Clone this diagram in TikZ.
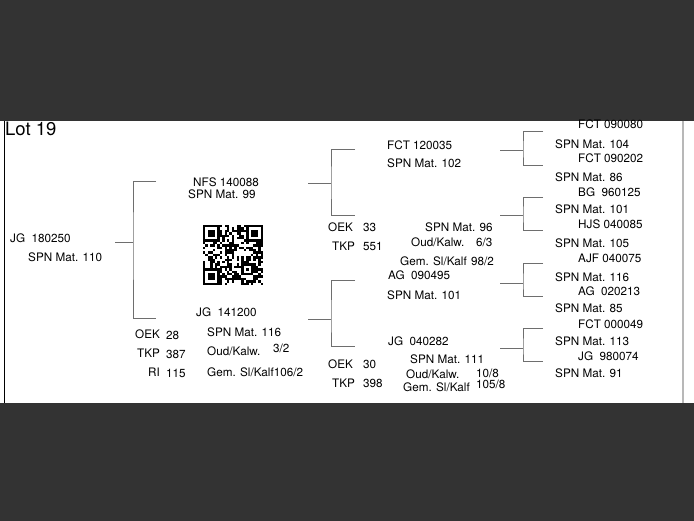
\documentclass[tikz,border=0pt]{standalone}
\usepackage{fontspec}
\setmainfont{TeX Gyre Heros}
\usetikzlibrary{calc,positioning}

\definecolor{bgdark}{HTML}{333333}
\definecolor{forkgray}{HTML}{6E6E6E}

\tikzset{
    lbl/.style={anchor=base west, inner sep=0pt, font=\fontsize{11.7}{14}\selectfont},
    pedline/.style={draw=forkgray, line width=0.9pt},
}

\begin{document}
\begin{tikzpicture}[x=1pt,y=-1pt]
        \useasboundingbox (0,0) rectangle (694,521);

        % Sheet
        \fill[bgdark] (0,0) rectangle (694,121);
        \fill[white] (0,121) rectangle (694,403);
        \fill[bgdark] (0,403) rectangle (694,521);
        \draw[black, line width=0.8pt] (4,121) -- (4,403);
        \draw[black!28, line width=2.6pt] (683,121) -- (683,403);

        \node[lbl, font=\fontsize{18.5}{20}\selectfont] (lot) at (5,136) {Lot 19};

        % Animal
        \node[lbl] (anim) at (10,243) {JG~~180250};
        \node[lbl] (animspn) at (28,262) {SPN Mat. 110};

        % Sire
        \node[lbl] (sire) at (193,187) {NFS 140088};
        \node[lbl] (sirespn) at (188,199) {SPN Mat. 99};

        % Dam
        \node[lbl] (dam) at (196,317) {JG~~141200};
        \node[lbl] (damspn) at (207,337) {SPN Mat. 116};
        \node[lbl] (damoud) at (207,356) {Oud/Kalw.};
        \node[lbl] (damoudv) at (273,353) {3/2};
        \node[lbl] (damgem) at (207,377) {Gem. Sl/Kalf106/2};
        \node[lbl] (damoek) at (135,339) {OEK};
        \node[lbl] (damoekv) at (166,340) {28};
        \node[lbl] (damtkp) at (137,358) {TKP};
        \node[lbl] (damtkpv) at (166,359) {387};
        \node[lbl] (damri) at (148,377) {RI};
        \node[lbl] (damriv) at (166,378) {115};

        % Grandparents, sire side
        \node[lbl] (ss) at (387,150) {FCT 120035};
        \node[lbl] (ssspn) at (387,168) {SPN Mat. 102};
        \node[lbl] (sdoek) at (328,232) {OEK};
        \node[lbl] (sdoekv) at (363,232) {33};
        \node[lbl] (sdtkp) at (332,251) {TKP};
        \node[lbl] (sdtkpv) at (363,251) {551};
        \node[lbl] (sdspn) at (425,232) {SPN Mat. 96};
        \node[lbl] (sdoud) at (411,247) {Oud/Kalw.};
        \node[lbl] (sdoudv) at (476,247) {6/3};
        \node[lbl] (sdgem) at (400,266) {Gem. Sl/Kalf};
        \node[lbl] (sdgemv) at (471,266) {98/2};

        % Grandparents, dam side
        \node[lbl] (ds) at (388,280) {AG~~090495};
        \node[lbl] (dsspn) at (387,300) {SPN Mat. 101};
        \node[lbl] (dd) at (388,346) {JG~~040282};
        \node[lbl] (ddspn) at (410,364) {SPN Mat. 111};
        \node[lbl] (ddoud) at (406,379) {Oud/Kalw.};
        \node[lbl] (ddoudv) at (476,378) {10/8};
        \node[lbl] (ddgem) at (403,392) {Gem. Sl/Kalf};
        \node[lbl] (ddgemv) at (476,389) {105/8};
        \node[lbl] (ddoek) at (328,369) {OEK};
        \node[lbl] (ddoekv) at (363,369) {30};
        \node[lbl] (ddtkp) at (332,388) {TKP};
        \node[lbl] (ddtkpv) at (363,388) {398};

        % Great-grandparents
        \node[lbl] (g1) at (578,129) {FCT 090080};
        \node[lbl] (g1spn) at (555,149) {SPN Mat. 104};
        \node[lbl] (g2) at (578,163) {FCT 090202};
        \node[lbl] (g2spn) at (555,182) {SPN Mat. 86};
        \node[lbl] (g3) at (578,197) {BG~~960125};
        \node[lbl] (g3spn) at (555,214) {SPN Mat. 101};
        \node[lbl] (g4) at (578,229) {HJS 040085};
        \node[lbl] (g4spn) at (555,248) {SPN Mat. 105};
        \node[lbl] (g5) at (578,263) {AJF 040075};
        \node[lbl] (g5spn) at (555,282) {SPN Mat. 116};
        \node[lbl] (g6) at (578,296) {AG~~020213};
        \node[lbl] (g6spn) at (555,313) {SPN Mat. 85};
        \node[lbl] (g7) at (578,329) {FCT 000049};
        \node[lbl] (g7spn) at (555,346) {SPN Mat. 113};
        \node[lbl] (g8) at (578,361) {JG~~980074};
        \node[lbl] (g8spn) at (555,378) {SPN Mat. 91};

        % Forks
        \foreach \f/\x/\y/\yt/\yb/\len/\w in {
                f1/115/242/181/318/18/41,
                f2/308/183/149/215/23/47,
                f3/308/319/280/346/23/47,
                f4/500/150/131/165/23/43,
                f5/500/215/197/230/23/43,
                f6/500/283/263/296/23/43,
                f7/500/348/328/361/23/43} {
            \coordinate (\f) at (\x,\y);
            \coordinate (\f t) at (\x+\w,\yt);
            \coordinate (\f b) at (\x+\w,\yb);
            \draw[pedline] (\f) -- ++(\len,0) coordinate (\f m);
            \draw[pedline] (\f t) -| (\f m) |- (\f b);
        }

        % QR code
        \begin{scope}[shift={(203,225)}]
            \pgfmathsetseed{1919}
            \foreach \i in {0,...,24} {
                \foreach \j in {0,...,24} {
                    \pgfmathrandominteger{\bit}{0}{1}
                    \ifnum\bit=1
                        \fill[black] (\i*2.4,\j*2.4) rectangle ++(2.4,2.4);
                    \fi
                }
            }
            \foreach \px/\py in {0/0, 18/0, 0/18} {
                \fill[white] (\px*2.4-0.1,\py*2.4-0.1) rectangle ++(7*2.4+0.2,7*2.4+0.2);
                \fill[black] (\px*2.4,\py*2.4) rectangle ++(7*2.4,7*2.4);
                \fill[white] (\px*2.4+2.4,\py*2.4+2.4) rectangle ++(5*2.4,5*2.4);
                \fill[black] (\px*2.4+4.8,\py*2.4+4.8) rectangle ++(3*2.4,3*2.4);
            }
            \fill[black] (16*2.4,16*2.4) rectangle ++(5*2.4,5*2.4);
            \fill[white] (17*2.4,17*2.4) rectangle ++(3*2.4,3*2.4);
            \fill[black] (18*2.4,18*2.4) rectangle ++(2.4,2.4);
        \end{scope}

    \end{tikzpicture}
\end{document}
